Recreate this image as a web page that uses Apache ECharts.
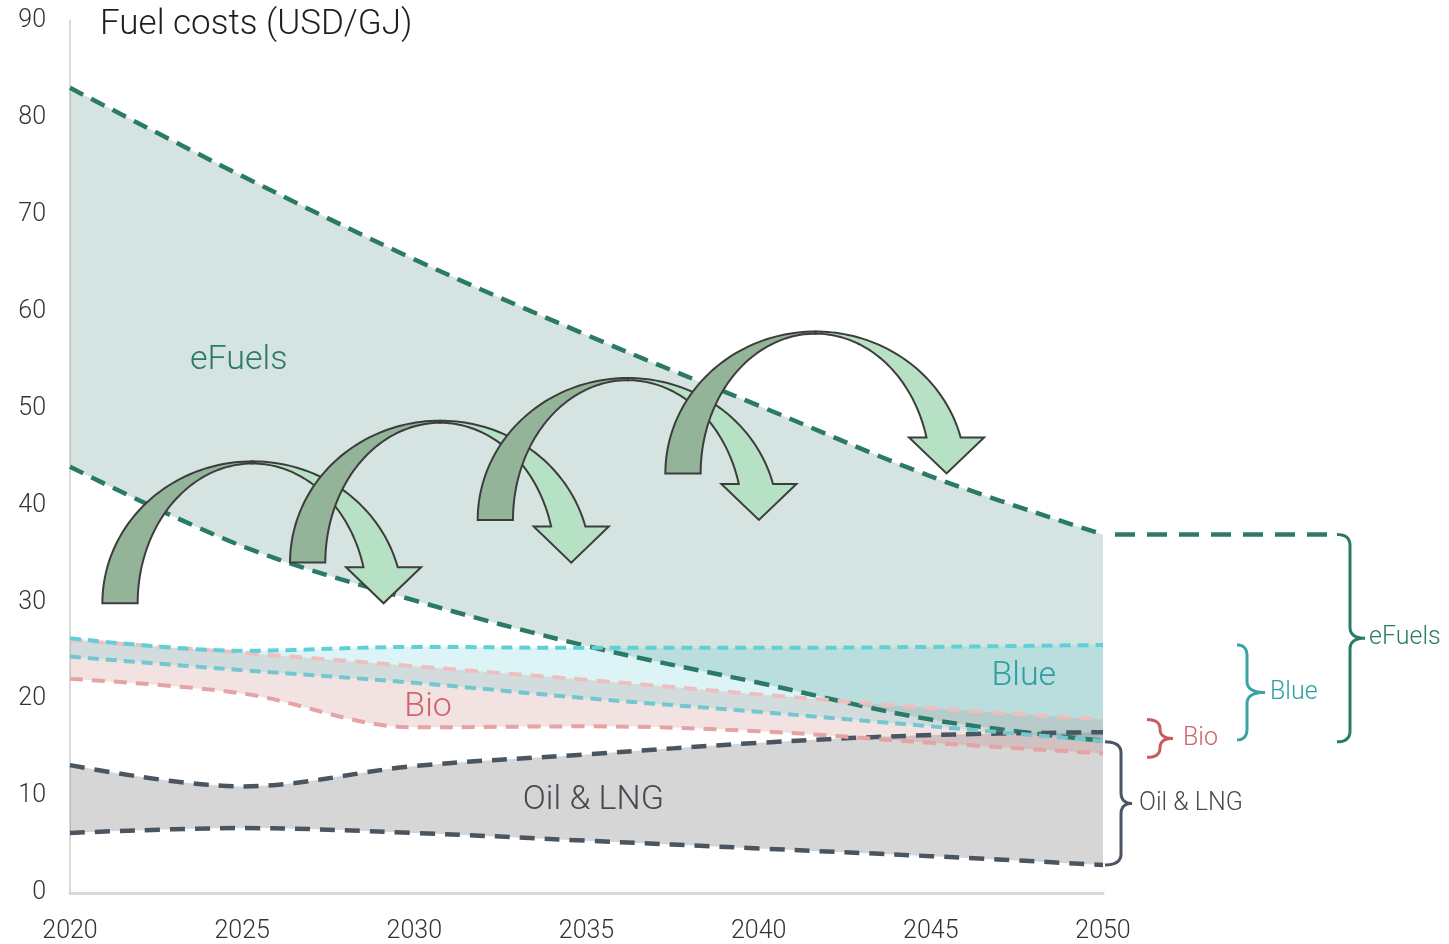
<!DOCTYPE html>
<html><head><meta charset="utf-8">
<script src="https://cdn.jsdelivr.net/npm/echarts@6/dist/echarts.min.js"></script>
<style>html,body{margin:0;padding:0;background:#fff;}#c{width:1449px;height:944px;}</style>
</head><body><div id="c"></div>
<script>
// ---------------- data ----------------
const years      = [2020, 2025, 2030, 2035, 2040, 2045, 2050];
const eFuelsHigh = [83.1, 74.0, 65.4, 57.6, 50.3, 43.0, 37.0];
const eFuelsLow  = [44.0, 35.8, 30.2, 25.5, 21.7, 17.9, 15.7];
const blueHigh   = [26.3, 25.0, 25.4, 25.3, 25.3, 25.4, 25.6];
const blueLow    = [24.4, 23.0, 21.7, 20.1, 18.7, 17.2, 15.7];
const bioHigh    = [26.1, 24.8, 23.4, 22.0, 20.5, 19.1, 17.9];
const bioLow     = [22.1, 20.6, 17.1, 17.2, 16.7, 15.5, 14.4];
const oilHigh    = [13.2, 11.0, 13.1, 14.3, 15.5, 16.3, 16.6];
const oilLow     = [ 6.2,  6.7,  6.2,  5.4,  4.6,  3.8,  2.9];
const titleText  = 'Fuel costs (USD/GJ)';
// band labels inside plot
const bandLabelText  = ['eFuels', 'Blue', 'Bio', 'Oil & LNG'];
const bandLabelYear  = [2024.9, 2047.7, 2030.4, 2035.2];
const bandLabelValue = [55.0, 22.3, 19.1, 9.5];
// 2050 ranges marked by braces on the right: high / low
const braceText  = ['Oil & LNG', 'Bio', 'Blue', 'eFuels'];
const braceHigh  = [15.6, 17.9, 25.6, 37.0];
const braceLow   = [ 2.9, 14.0, 15.8, 15.6];
// curved "jump" arrows, centre of the arc foot (year, value)
const arrowYear  = [2025.3, 2030.75, 2036.2, 2041.65];
const arrowValue = [29.9, 34.1, 38.5, 43.3];
const arrowSpanYears = 4.36, arrowSpanValue = 14.65;

// ---------------- styles ----------------
const FONT = 'Roboto, "Noto Sans", sans-serif';
const C = {
  eF: '#2b7a67', eFfill: 'rgba(43,122,103,0.2)',
  blueHi: '#5fd0d5', blueLo: '#72c8ce', blueFill: 'rgba(80,200,205,0.2)', blueTxt: '#2d9fa2', blueBrace: '#3aa3a5',
  bioHi: '#efbfc0', bio: '#e6a3a4', bioFill: 'rgba(195,110,110,0.2)', bioTxt: '#d0636a', bioBrace: '#c95a5f',
  oil: '#4a5562', oilFill: 'rgba(120,120,120,0.3)', oilTxt: '#444a52'
};
const S = 0.35;

function band(name, low, high, fill) {
  return [
    {name: name + 'b', type: 'line', xAxisIndex: 1, stack: name, data: low, symbol: 'none', smooth: S,
     lineStyle: {width: 0, opacity: 0}, silent: true},
    {name: name + 'f', type: 'line', xAxisIndex: 1, stack: name, data: high.map((v, i) => +(v - low[i]).toFixed(3)),
     symbol: 'none', smooth: S, lineStyle: {width: 0, opacity: 0}, areaStyle: {color: fill, opacity: 1}, silent: true}
  ];
}
function dash(name, arr, color, width, pattern) {
  return {name, type: 'line', xAxisIndex: 1, data: arr, symbol: 'none', smooth: S, silent: true,
          lineStyle: {color, width, type: pattern}};
}

const chart = echarts.init(document.getElementById('c'), null, {renderer: 'canvas'});
chart.setOption({
  animation: false,
  backgroundColor: '#fff',
  grid: {left: 70, right: 346, top: 21, bottom: 51},
  title: {text: titleText, left: 95, top: 3,
          textStyle: {fontFamily: FONT, fontWeight: 300, fontSize: 35, color: '#1e1e1e'}},
  xAxis: [
    {type: 'value', min: 2020, max: 2050, interval: 5,
     axisLine: {lineStyle: {color: '#d9d9d9', width: 3}}, axisTick: {show: false}, splitLine: {show: false},
     axisLabel: {fontFamily: FONT, fontWeight: 300, fontSize: 25, color: '#333', margin: 26, formatter: v => String(v)}},
    {type: 'category', data: years.map(String), boundaryGap: false, show: false}
  ],
  yAxis: {type: 'value', min: 0, max: 90, interval: 10,
          axisLine: {show: true, lineStyle: {color: '#d9d9d9', width: 2}}, axisTick: {show: false}, splitLine: {show: false},
          axisLabel: {fontFamily: FONT, fontWeight: 300, fontSize: 25, color: '#333', margin: 24}},
  series: [
    ...band('ef', eFuelsLow, eFuelsHigh, C.eFfill),
    dash('efH', eFuelsHigh, C.eF, 4.5, [15, 9]),
    dash('efL', eFuelsLow, C.eF, 4.5, [15, 9]),
    ...band('oil', oilLow, oilHigh, C.oilFill),
    dash('oilH', oilHigh, C.oil, 4.5, [15, 10]),
    dash('oilL', oilLow, C.oil, 4.5, [15, 10]),
    ...band('bio', bioLow, bioHigh, C.bioFill),
    dash('bioH', bioHigh, C.bioHi, 4, [13, 9]),
    dash('bioL', bioLow, C.bio, 4, [13, 9]),
    ...band('blue', blueLow, blueHigh, C.blueFill),
    dash('blueH', blueHigh, C.blueHi, 4, [11, 7]),
    dash('blueL', blueLow, C.blueLo, 4, [11, 7])
  ]
});

// ---------------- annotations (placed through the axes) ----------------
const px = (x, y) => chart.convertToPixel({xAxisIndex: 0, yAxisIndex: 0}, [x, y]);
const els = [];

const bandColors = [C.eF, C.blueTxt, C.bioTxt, C.oilTxt];
bandLabelText.forEach((t, i) => {
  const p = px(bandLabelYear[i], bandLabelValue[i]);
  els.push({type: 'text', x: p[0], y: p[1], z: 50,
    style: {text: t, fontFamily: FONT, fontWeight: 300, fontSize: 34, fill: bandColors[i],
            align: 'center', verticalAlign: 'middle', textAlign: 'center', textVerticalAlign: 'middle'}});
});

function ell(cx, cy, rx, ry, t) { return [cx + rx * Math.cos(t), cy - ry * Math.sin(t)]; }
arrowYear.forEach((yr, k) => {
  const c = px(yr, arrowValue[k]);
  const e = px(yr + arrowSpanYears, arrowValue[k] + arrowSpanValue);
  const cx = c[0], cy = c[1];
  const rxO = e[0] - cx, ryO = cy - e[1];
  const rxI = rxO * 0.765, ryI = ryO * 0.985;
  const h = ryO * 0.254, hw = rxO * 0.25;
  const N = 48;
  const dark = [];
  for (let i = 0; i <= N; i++) dark.push(ell(cx, cy, rxO, ryO, Math.PI - i / N * Math.PI / 2));
  for (let i = 0; i <= N; i++) dark.push(ell(cx, cy, rxI, ryI, Math.PI / 2 + i / N * Math.PI / 2));
  const tO = Math.asin(h / ryO), tI = Math.asin(h / ryI);
  const light = [];
  for (let i = 0; i <= N; i++) light.push(ell(cx, cy, rxO, ryO, Math.PI / 2 - i / N * (Math.PI / 2 - tO)));
  const xo = cx + rxO * Math.cos(tO), xi = cx + rxI * Math.cos(tI), xm = (xo + xi) / 2 + 3;
  light.push([xm + hw, cy - h], [xm, cy], [xm - hw, cy - h]);
  for (let i = 0; i <= N; i++) light.push(ell(cx, cy, rxI, ryI, tI + i / N * (Math.PI / 2 - tI)));
  const z = 60 + k * 2;
  els.push({type: 'polygon', z, shape: {points: light}, style: {fill: '#b6e1c4', stroke: '#3d3d3d', lineWidth: 2}});
  els.push({type: 'polygon', z: z + 1, shape: {points: dark}, style: {fill: '#94b49a', stroke: '#3d3d3d', lineWidth: 2}});
});

const x50 = px(2050, 0)[0];
const yEf = px(2050, eFuelsHigh[eFuelsHigh.length - 1])[1];
els.push({type: 'line', z: 40, shape: {x1: x50 + 12, y1: yEf, x2: x50 + 224, y2: yEf},
  style: {stroke: C.eF, lineWidth: 4.5, lineDash: [20, 12]}});

const braceOff = [[2, 18, 29, 36], [44, 57, 70, 80], [134, 144, 162, 167], [234, 247, 262, 266]];
const braceCol = [C.oil, C.bioBrace, C.blueBrace, C.eF];
const braceTxtCol = [C.oilTxt, C.bioTxt, C.blueTxt, C.eF];
function quad(p0, p1, p2, out) {
  for (let i = 1; i <= 10; i++) {
    const t = i / 10, a = (1 - t) * (1 - t), b = 2 * (1 - t) * t, d = t * t;
    out.push([a * p0[0] + b * p1[0] + d * p2[0], a * p0[1] + b * p1[1] + d * p2[1]]);
  }
}
braceText.forEach((t, i) => {
  const yT = px(2050, braceHigh[i])[1], yB = px(2050, braceLow[i])[1], ym = (yT + yB) / 2;
  const [oL, oV, oP, oT] = braceOff[i];
  const xL = x50 + oL, xV = x50 + oV, xP = x50 + oP;
  const r = Math.min(11, (yB - yT) / 4);
  const pts = [[xL, yT]];
  quad([xL, yT], [xV, yT], [xV, yT + r], pts);
  pts.push([xV, ym - r]);
  quad([xV, ym - r], [xV, ym], [xP, ym], pts);
  quad([xP, ym], [xV, ym], [xV, ym + r], pts);
  pts.push([xV, yB - r]);
  quad([xV, yB - r], [xV, yB], [xL, yB], pts);
  els.push({type: 'polyline', z: 40, shape: {points: pts}, style: {stroke: braceCol[i], lineWidth: 3, fill: null}});
  els.push({type: 'text', z: 40, x: x50 + oT, y: ym,
    style: {text: t, fontFamily: FONT, fontWeight: 300, fontSize: 25, fill: braceTxtCol[i],
            align: 'left', verticalAlign: 'middle', textAlign: 'left', textVerticalAlign: 'middle'}});
});

chart.setOption({graphic: {elements: els}});
</script></body></html>
